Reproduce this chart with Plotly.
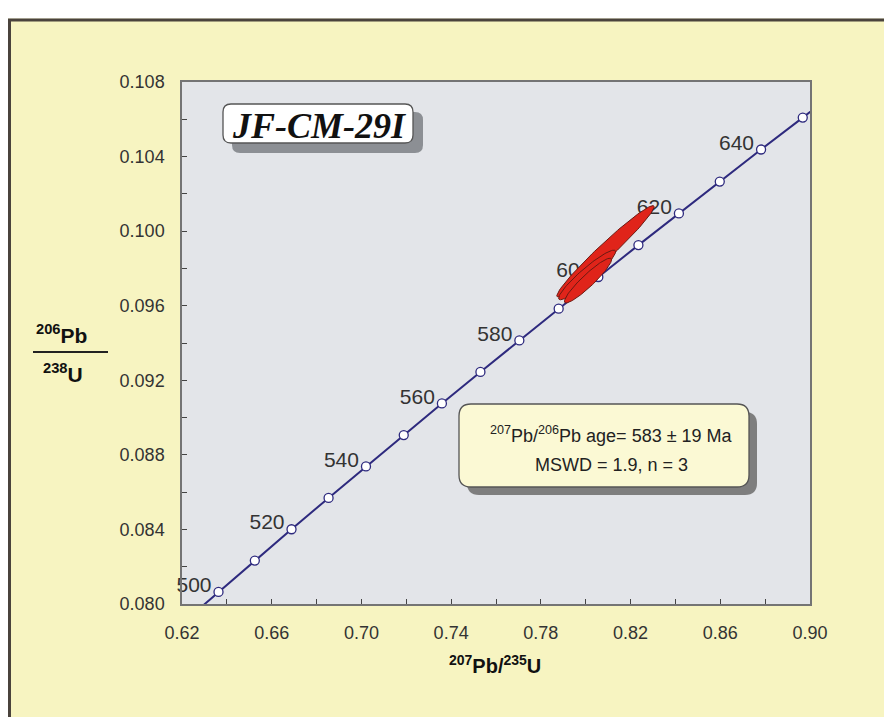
import numpy as np
import plotly.graph_objects as go

# ---------------- data ----------------
# Concordia age markers (Ma) and their ratios
ages = [490, 500, 510, 520, 530, 540, 550, 560, 570, 580, 590, 600, 610, 620, 630, 640, 650, 660]
pb207_u235 = [0.62024, 0.63628, 0.65247, 0.66883, 0.68535, 0.70203, 0.71887, 0.73588, 0.75306,
              0.77041, 0.78794, 0.80563, 0.82350, 0.84155, 0.85977, 0.87818, 0.89677, 0.91554]
pb206_u238 = [0.07897, 0.08065, 0.08233, 0.08401, 0.08569, 0.08738, 0.08906, 0.09076, 0.09245,
              0.09414, 0.09584, 0.09754, 0.09925, 0.10095, 0.10266, 0.10438, 0.10609, 0.10781]
label_ages = [500, 520, 540, 560, 580, 600, 620, 640]

# Error ellipses: centre, half-extent in x and y, correlation
ell_cx = [0.8088, 0.8006, 0.8010]
ell_cy = [0.09892, 0.09765, 0.09735]
ell_sx = [0.0217, 0.0127, 0.0105]
ell_sy = [0.00245, 0.00133, 0.00120]
ell_rho = [0.975, 0.935, 0.93]

x_range = [0.62, 0.90]
y_range = [0.080, 0.108]

title_text = "JF-CM-29I"
age_text = "<sup>207</sup>Pb/<sup>206</sup>Pb age= 583 ± 19 Ma"
mswd_text = "MSWD = 1.9, n = 3"

# ---------------- layout geometry (page pixels) ----------------
OFF = 8                     # page body margin of the browser
W, H = 892, 717
PL, PR, PT, PB = 182, 810, 82, 604   # plot area in page pixels
L, R, T, B = PL - OFF, PR - OFF, PT - OFF, PB - OFF


def px(x):
    return (x - OFF - L) / (R - L)


def py(y):
    return (B - (y - OFF)) / (B - T)


def rrect(x0, y0, x1, y1, r):
    pts = [
        f"M {px(x0 + r)} {py(y0)}",
        f"L {px(x1 - r)} {py(y0)}",
        f"Q {px(x1)} {py(y0)} {px(x1)} {py(y0 + r)}",
        f"L {px(x1)} {py(y1 - r)}",
        f"Q {px(x1)} {py(y1)} {px(x1 - r)} {py(y1)}",
        f"L {px(x0 + r)} {py(y1)}",
        f"Q {px(x0)} {py(y1)} {px(x0)} {py(y1 - r)}",
        f"L {px(x0)} {py(y0 + r)}",
        f"Q {px(x0)} {py(y0)} {px(x0 + r)} {py(y0)}",
        "Z",
    ]
    return " ".join(pts)


dx_per_px = (x_range[1] - x_range[0]) / (R - L)
dy_per_px = (y_range[1] - y_range[0]) / (B - T)

fig = go.Figure()

# Concordia curve with age markers
fig.add_trace(go.Scatter(
    x=pb207_u235, y=pb206_u238, mode="lines+markers",
    line=dict(color="#2e2a7e", width=2),
    marker=dict(size=9, color="white", line=dict(color="#2e2a7e", width=1.3)),
    hoverinfo="skip", showlegend=False,
))

# Age labels
lab_x = [pb207_u235[ages.index(a)] - 7 * dx_per_px for a in label_ages]
lab_y = [pb206_u238[ages.index(a)] + 5 * dy_per_px for a in label_ages]
fig.add_trace(go.Scatter(
    x=lab_x, y=lab_y, mode="text", text=[str(a) for a in label_ages],
    textposition="middle left",
    textfont=dict(family="Liberation Sans, Arial", size=21, color="#333333"),
    hoverinfo="skip", showlegend=False, cliponaxis=False,
))

# Error ellipses
t = np.linspace(0, 2 * np.pi, 120)
for cx, cy, sx, sy, rho in zip(ell_cx, ell_cy, ell_sx, ell_sy, ell_rho):
    ex = cx + sx * np.cos(t)
    ey = cy + sy * (rho * np.cos(t) + np.sqrt(1 - rho ** 2) * np.sin(t))
    fig.add_trace(go.Scatter(
        x=ex, y=ey, mode="lines", fill="toself",
        fillcolor="#e0241a", line=dict(color="#6b1a12", width=1),
        hoverinfo="skip", showlegend=False,
    ))

shapes = []
# page border
shapes.append(dict(type="rect", xref="paper", yref="paper", layer="below",
                   x0=px(0), x1=px(910), y0=py(0), y1=py(18.5),
                   fillcolor="white", line=dict(width=0)))
shapes.append(dict(type="line", xref="paper", yref="paper", layer="below",
                   x0=px(8), x1=px(910), y0=py(20), y1=py(20),
                   line=dict(color="#4a433c", width=3)))
shapes.append(dict(type="line", xref="paper", yref="paper", layer="below",
                   x0=px(9.5), x1=px(9.5), y0=py(20), y1=py(740),
                   line=dict(color="#4a433c", width=3)))

# title box with shadow
shapes.append(dict(type="path", xref="paper", yref="paper",
                   path=rrect(232, 112, 423, 153, 8), fillcolor="#8c8f94",
                   line=dict(width=0)))
shapes.append(dict(type="path", xref="paper", yref="paper",
                   path=rrect(223, 104, 413, 143, 8), fillcolor="white",
                   line=dict(color="#555555", width=1.3)))

# age box with shadow
shapes.append(dict(type="path", xref="paper", yref="paper",
                   path=rrect(467, 412, 757, 495, 12), fillcolor="#7e7e7e",
                   line=dict(width=0)))
shapes.append(dict(type="path", xref="paper", yref="paper",
                   path=rrect(459, 404, 749, 487, 12), fillcolor="#fbf9d4",
                   line=dict(color="#555555", width=1.3)))

# y-title fraction bar
shapes.append(dict(type="line", xref="paper", yref="paper",
                   x0=px(33), x1=px(108), y0=py(352), y1=py(352),
                   line=dict(color="#222222", width=2)))

annotations = [
    dict(x=px(319), y=py(126), xref="paper", yref="paper", text=title_text,
         showarrow=False, xanchor="center", yanchor="middle",
         font=dict(family="Liberation Serif, Times New Roman", size=36, color="#111111",
                   weight="bold", style="italic")),
    dict(x=px(611), y=py(435), xref="paper", yref="paper", text=age_text,
         showarrow=False, xanchor="center", yanchor="middle",
         font=dict(family="Liberation Sans, Arial", size=18, color="#222222")),
    dict(x=px(611), y=py(465), xref="paper", yref="paper", text=mswd_text,
         showarrow=False, xanchor="center", yanchor="middle",
         font=dict(family="Liberation Sans, Arial", size=18, color="#222222")),
    dict(x=px(62), y=py(334), xref="paper", yref="paper", text="<sup>206</sup>Pb",
         showarrow=False, xanchor="center", yanchor="middle",
         font=dict(family="Liberation Sans, Arial", size=21, color="#111111", weight="bold")),
    dict(x=px(63), y=py(373), xref="paper", yref="paper", text="<sup>238</sup>U",
         showarrow=False, xanchor="center", yanchor="middle",
         font=dict(family="Liberation Sans, Arial", size=21, color="#111111", weight="bold")),
    dict(x=px(495), y=py(664), xref="paper", yref="paper", text="<sup>207</sup>Pb/<sup>235</sup>U",
         showarrow=False, xanchor="center", yanchor="middle",
         font=dict(family="Liberation Sans, Arial", size=20, color="#111111", weight="bold")),
]

axis_common = dict(
    showgrid=False, zeroline=False, showline=True, mirror=True,
    linecolor="#747474", linewidth=1.5,
    ticks="inside", ticklen=5, tickwidth=1.3, tickcolor="#444444",
    tickfont=dict(family="Liberation Sans, Arial", size=18, color="#333333"),
)

fig.update_layout(
    width=W, height=H,
    margin=dict(l=L, r=W - R, t=T, b=H - B),
    paper_bgcolor="#f7f4c1",
    plot_bgcolor="#e3e5e9",
    xaxis=dict(range=x_range, tick0=0.62, dtick=0.04, tickformat=".2f",
               minor=dict(tick0=0.62, dtick=0.02, ticks="inside", ticklen=5,
                          tickcolor="#444444"),
               ticklabelstandoff=12, **axis_common),
    yaxis=dict(range=y_range, tick0=0.080, dtick=0.004, tickformat=".3f",
               minor=dict(tick0=0.080, dtick=0.002, ticks="inside", ticklen=5,
                          tickcolor="#444444"),
               ticklabelstandoff=12, **axis_common),
    shapes=shapes,
    annotations=annotations,
    showlegend=False,
)

fig.write_html("out.html")
